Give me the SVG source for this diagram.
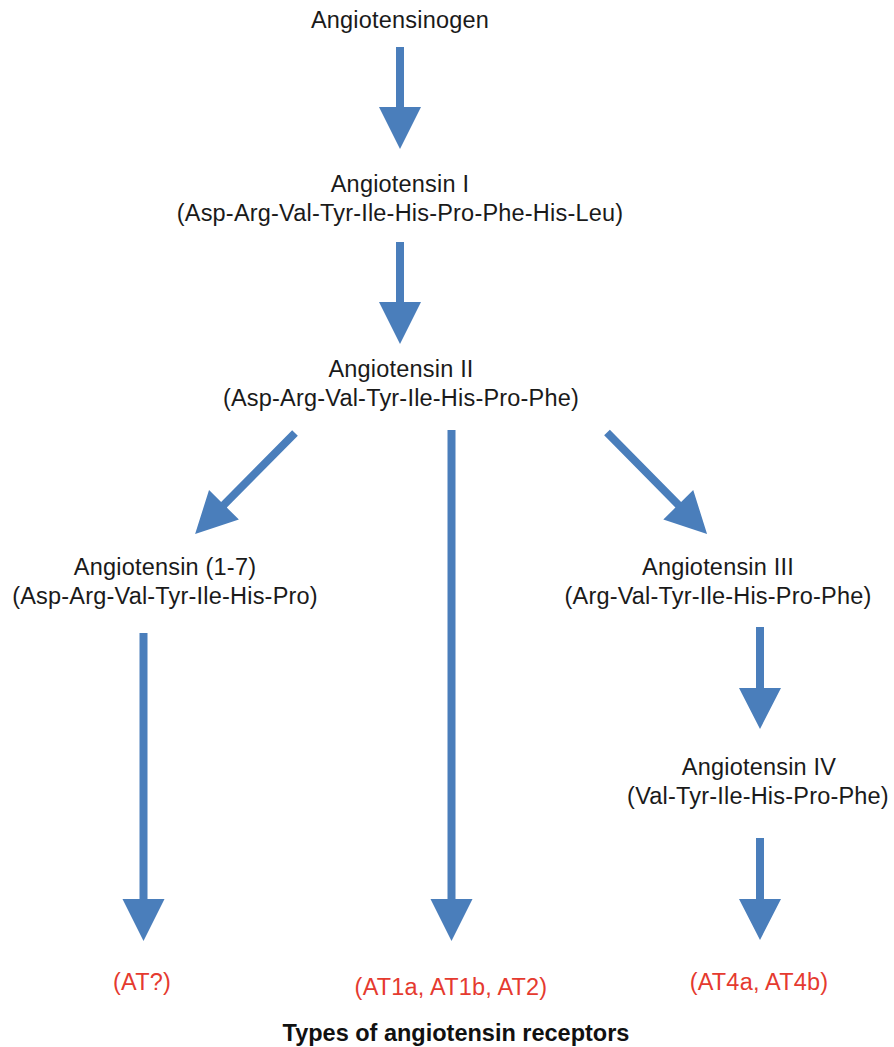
<svg xmlns="http://www.w3.org/2000/svg" width="894" height="1047" viewBox="0 0 894 1047">
<style>
  text { font-family: "Liberation Sans", Arial, Helvetica, sans-serif; font-size: 23.5px; letter-spacing: 0.2px; text-anchor: middle; fill: #1a1a1a; }
  .rec { fill: #e53a2f; }
  .title { font-weight: bold; letter-spacing: 0; fill: #111; }
  .arr { fill: #4a7ebb; }
</style>
<rect width="894" height="1047" fill="#ffffff"/>
<g id="connectors">
  <polygon class="arr" points="396,47 404,47 404,107 421,107 400,149 379,107 396,107"/>
  <polygon class="arr" points="396,242 404,242 404,302 421,302 400,344 379,302 396,302"/>
  <polygon class="arr" transform="translate(295,433) rotate(44.7)" points="-4,0 4,0 4,101 21,101 0,142 -21,101 -4,101"/>
  <polygon class="arr" transform="translate(607,432.5) rotate(-44.6)" points="-4,0 4,0 4,101.5 21,101.5 0,142.5 -21,101.5 -4,101.5"/>
  <polygon class="arr" points="447.5,430 455.5,430 455.5,899 472.5,899 451.5,941 430.5,899 447.5,899"/>
  <polygon class="arr" points="139.5,633 147.5,633 147.5,899 164.5,899 143.5,941 122.5,899 139.5,899"/>
  <polygon class="arr" points="756,627 764,627 764,688 781,688 760,729 739,688 756,688"/>
  <polygon class="arr" points="756,838 764,838 764,899 781,899 760,940 739,899 756,899"/>
</g>
<g id="angiotensinogen"><text x="400" y="28">Angiotensinogen</text></g>
<g id="angiotensin-i">
  <text x="400" y="192">Angiotensin I</text>
  <text x="400" y="221">(Asp-Arg-Val-Tyr-Ile-His-Pro-Phe-His-Leu)</text>
</g>
<g id="angiotensin-ii">
  <text x="401" y="377">Angiotensin II</text>
  <text x="401" y="406">(Asp-Arg-Val-Tyr-Ile-His-Pro-Phe)</text>
</g>
<g id="angiotensin-1-7">
  <text x="165" y="575">Angiotensin (1-7)</text>
  <text x="165" y="604">(Asp-Arg-Val-Tyr-Ile-His-Pro)</text>
</g>
<g id="angiotensin-iii">
  <text x="718" y="575">Angiotensin III</text>
  <text x="718" y="604">(Arg-Val-Tyr-Ile-His-Pro-Phe)</text>
</g>
<g id="angiotensin-iv">
  <text x="759" y="775">Angiotensin IV</text>
  <text x="758" y="804">(Val-Tyr-Ile-His-Pro-Phe)</text>
</g>
<g id="receptor-at-unknown"><text class="rec" x="142" y="990">(AT?)</text></g>
<g id="receptor-at1-at2"><text class="rec" x="451" y="995">(AT1a, AT1b, AT2)</text></g>
<g id="receptor-at4"><text class="rec" x="759" y="990">(AT4a, AT4b)</text></g>
<g id="caption"><text class="title" x="456" y="1041">Types of angiotensin receptors</text></g>
</svg>
